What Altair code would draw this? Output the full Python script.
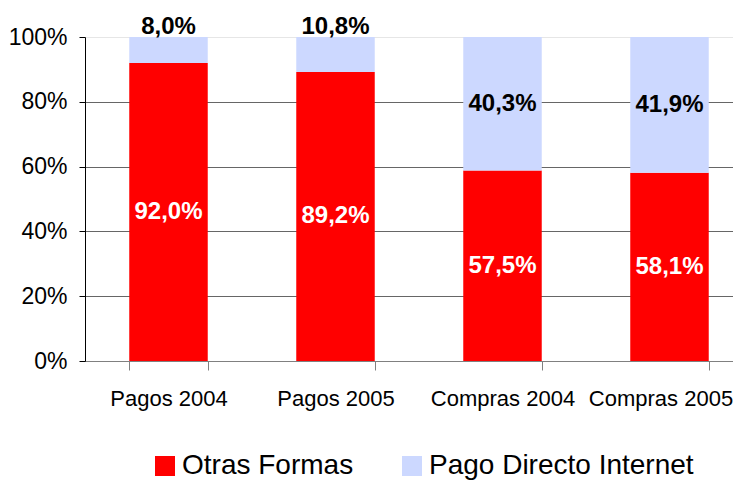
import altair as alt
import pandas as pd

categories = ["Pagos 2004", "Pagos 2005", "Compras 2004", "Compras 2005"]
otras = [92.0, 89.2, 57.5, 58.1]
internet = [8.0, 10.8, 40.3, 41.9]
series = ["Otras Formas", "Pago Directo Internet"]
colors = ["#FF0000", "#CCD8FF"]

FONT = "Liberation Sans Narrow, Arial Narrow, Liberation Sans, Arial, sans-serif"


def fmt(v):
    return f"{v:.1f}".replace(".", ",") + "%"


rows = []
for c, a, b in zip(categories, otras, internet):
    t = a + b
    fa, fb = a / t, b / t
    rows.append(dict(cat=c, serie=series[0], y0=0.0, y1=fa, ord=0,
                     txt=fmt(a), ly=fa / 2, tc="white"))
    ly = fa + fb / 2 if fb > 0.15 else 1.03
    rows.append(dict(cat=c, serie=series[1], y0=fa, y1=1.0, ord=1,
                     txt=fmt(b), ly=ly, tc="black"))
df = pd.DataFrame(rows)

last_cat = categories[-1]

xenc = alt.X(
    "cat:N", sort=categories, title=None,
    scale=alt.Scale(range=[0, 668], paddingInner=0.53, paddingOuter=0.265),
    axis=alt.Axis(labelAngle=0, labelFont=FONT, labelFontSize=22,
                  labelColor="black", labelPadding=18, tickBand="extent",
                  tickSize=9, tickColor="#808080", domainColor="#808080",
                  labelOverlap=False, labelBound=False,
                  labelOffset=alt.condition(f"datum.value == '{last_cat}'",
                                            alt.value(-9), alt.value(0))),
)

bars = alt.Chart(df).mark_bar().encode(
    x=xenc,
    y=alt.Y("y0:Q", title=None, scale=alt.Scale(domain=[0, 1], nice=False),
            axis=alt.Axis(format="0%", values=[0, 0.2, 0.4, 0.6, 0.8, 1.0],
                          labelFont=FONT, labelFontSize=23, labelColor="black",
                          labelPadding=12, tickSize=6, tickColor="black",
                          domainColor="black",
                          gridColor=alt.condition("datum.value >= 1",
                                                  alt.value("#e6e6e6"),
                                                  alt.value("#666666")))),
    y2="y1:Q",
    color=alt.Color("serie:N", scale=alt.Scale(domain=series, range=colors),
                    legend=alt.Legend(orient="none", legendX=66, legendY=415,
                                      direction="horizontal", title=None,
                                      symbolType="square", symbolSize=400,
                                      symbolStrokeWidth=0, labelFont=FONT,
                                      labelFontSize=28, labelColor="black",
                                      labelOffset=3, columnPadding=44,
                                      padding=0, symbolOpacity=1,
                                      labelLimit=400)),
    order=alt.Order("ord:Q"),
)

labels = alt.Chart(df).mark_text(font=FONT, fontWeight="bold", fontSize=24,
                                 baseline="middle").encode(
    x=alt.X("cat:N", sort=categories),
    y=alt.Y("ly:Q"),
    text="txt:N",
    color=alt.Color("tc:N", scale=None),
)

chart = (bars + labels).properties(
    width=648, height=324,
    autosize=alt.AutoSizeParams(type="none"),
    padding={"left": 77, "top": 29, "right": 0, "bottom": 121},
).configure_view(stroke=None)

chart.save("out.html", embed_options={"renderer": "svg", "actions": False})
